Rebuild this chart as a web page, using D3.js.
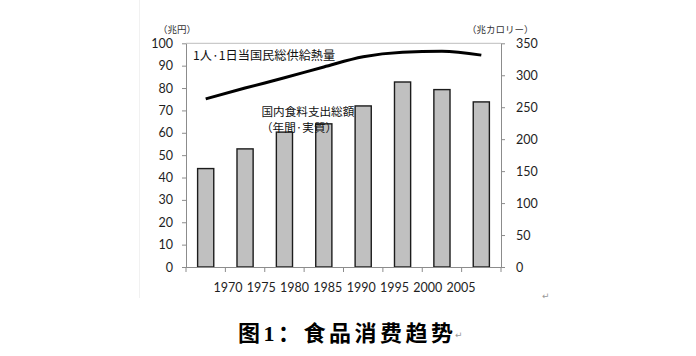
<!DOCTYPE html>
<html><head><meta charset="utf-8">
<script src="https://cdn.jsdelivr.net/npm/d3@7"></script>
<style>body{margin:0;background:#fff}svg{display:block}</style>
</head><body><svg id="c" width="696" height="356"></svg>
<script>
const categories = ["1970","1975","1980","1985","1990","1995","2000","2005"];
const expenditure = [44, 52.8, 60.3, 64, 72, 82.7, 79.3, 73.8];   // 兆円
const calories = [263, 280, 296, 313, 329, 336, 337.5, 331.5];     // 兆カロリー
const leftTicks = [0,10,20,30,40,50,60,70,80,90,100];
const rightTicks = [0,50,100,150,200,250,300,350];
const leftUnit = "（兆円）";
const rightUnit = "（兆カロリー）";
const lineLabel = "1人·1日当国民総供給熱量";
const barLabel1 = "国内食料支出総額";
const barLabel2 = "（年間·実質）";
const title = "图1：食品消费趋势";

const svg = d3.select("#c");
const X0 = 186, X1 = 501, Y0 = 267, Y1 = 43.3;
const num = "Lato, 'Liberation Sans', sans-serif";
const jp = "'Noto Sans CJK JP', sans-serif";

const x = d3.scaleBand().domain(categories).range([X0, X1]).paddingInner(0.59).paddingOuter(0.295);
const yL = d3.scaleLinear().domain([0, 100]).range([Y0, Y1]);
const yR = d3.scaleLinear().domain([0, 350]).range([Y0, Y1]);
const xLab = d3.scalePoint().domain(categories).range([228, 461]);

// faint frame edge
svg.append("line").attr("x1",139.5).attr("x2",139.5).attr("y1",0).attr("y2",298)
  .attr("stroke","#f1f1f1").attr("stroke-width",1);

// top border
svg.append("line").attr("x1",X0).attr("x2",X1).attr("y1",Y1).attr("y2",Y1)
  .attr("stroke","#bdbdbd").attr("stroke-width",1);

// left axis
const gL = svg.append("g").attr("transform",`translate(${X0},0)`)
  .call(d3.axisLeft(yL).tickValues(leftTicks).tickSize(4).tickPadding(9).tickSizeOuter(0));
// right axis
const gR = svg.append("g").attr("transform",`translate(${X1},0)`)
  .call(d3.axisRight(yR).tickValues(rightTicks).tickSize(4).tickPadding(11).tickSizeOuter(0));
[gL,gR].forEach(g=>{
  g.select(".domain").attr("stroke","#8c8c8c");
  g.selectAll(".tick line").attr("stroke","#8c8c8c");
  g.selectAll(".tick text").attr("fill","#1e1e1e").style("font-family",num).style("font-size","12.5px");
});

// bars
svg.append("g").selectAll("rect").data(categories).join("rect")
  .attr("x", d => x(d)).attr("width", x.bandwidth())
  .attr("y", (d,i) => yL(expenditure[i])).attr("height", (d,i) => Y0 - yL(expenditure[i]))
  .attr("fill","#c0c0c0").attr("stroke","#1c1c1c").attr("stroke-width",1.4);

// x axis
svg.append("line").attr("x1",X0).attr("x2",X1).attr("y1",Y0+0.5).attr("y2",Y0+0.5)
  .attr("stroke","#8c8c8c");
const bounds = d3.range(categories.length+1).map(i => X0 + i*x.step());
svg.append("g").selectAll("line").data(bounds).join("line")
  .attr("x1",d=>d).attr("x2",d=>d).attr("y1",Y0).attr("y2",Y0+5)
  .attr("stroke","#8c8c8c");
svg.append("g").selectAll("text").data(categories).join("text")
  .attr("x", d => xLab(d)).attr("y", 291.5).attr("text-anchor","middle")
  .attr("fill","#1e1e1e").style("font-family",num).style("font-size","12.5px")
  .text(d => d);

// line
const line = d3.line().x((d,i) => x(categories[i]) + x.bandwidth()/2).y(d => yR(d)).curve(d3.curveMonotoneX);
svg.append("path").datum(calories).attr("d", line)
  .attr("fill","none").attr("stroke","#000").attr("stroke-width",3);

// labels
svg.append("text").attr("x",158).attr("y",28.5).attr("dominant-baseline","central")
  .style("font-family",jp).style("font-size","9.5px").attr("fill","#333").text(leftUnit);
svg.append("text").attr("x",467).attr("y",28.5).attr("dominant-baseline","central")
  .style("font-family",jp).style("font-size","9.5px").attr("fill","#333").text(rightUnit);
svg.append("text").attr("x",193).attr("y",55).attr("dominant-baseline","central")
  .style("font-family",jp).style("font-size","12.2px").attr("fill","#111").text(lineLabel);
svg.append("text").attr("x",261.5).attr("y",110.5).attr("dominant-baseline","central")
  .style("font-family",jp).style("font-size","11.6px").attr("fill","#111").text(barLabel1);
svg.append("text").attr("x",261).attr("y",126.5).attr("dominant-baseline","central")
  .style("font-family",jp).style("font-size","11.6px").attr("fill","#111").text(barLabel2);

// title
svg.append("text").attr("x",238).attr("y",333).attr("dominant-baseline","central")
  .style("font-family","'Liberation Serif','Noto Sans CJK SC',serif").style("font-size","22px")
  .style("font-weight","bold").style("letter-spacing","3.5px").attr("fill","#000").text(title);
// paragraph marks
svg.append("text").attr("x",455).attr("y",338).style("font-family","'DejaVu Sans'").style("font-size","9px")
  .attr("fill","#999").text("↵");
svg.append("text").attr("x",542).attr("y",299).style("font-family","'DejaVu Sans'").style("font-size","9px")
  .attr("fill","#999").text("↵");
</script></body></html>
